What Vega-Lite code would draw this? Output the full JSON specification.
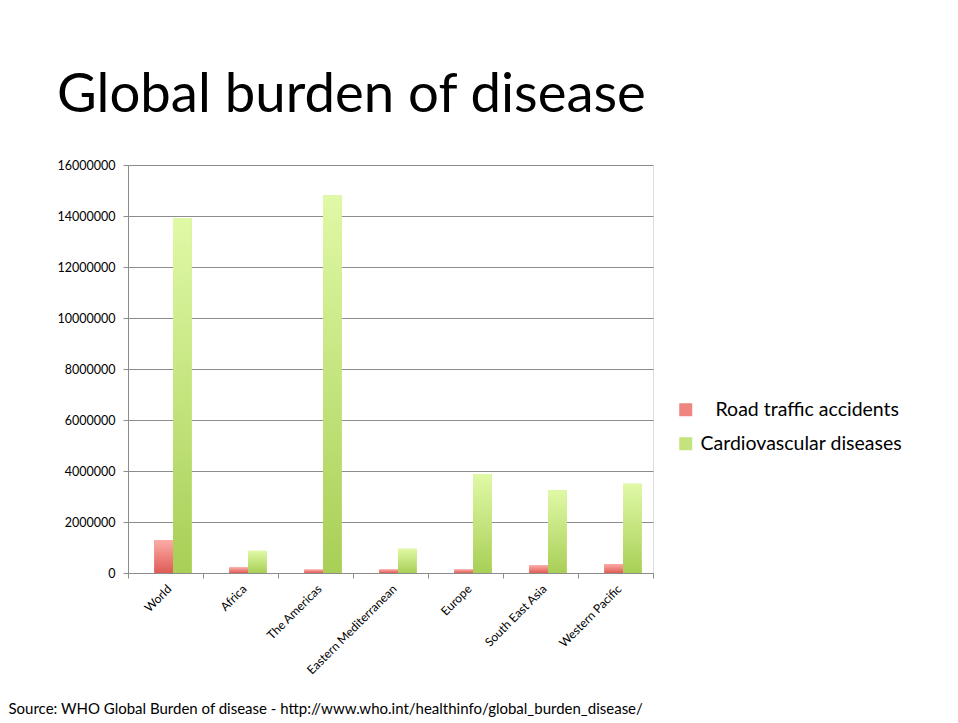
{
  "$schema": "https://vega.github.io/schema/vega-lite/v6.json",
  "width": 525,
  "height": 408,
  "autosize": {"type": "none"},
  "padding": {"left": 128, "top": 165, "right": 305, "bottom": 150},
  "background": "white",
  "title": {
    "text": "Global burden of disease",
    "anchor": "start",
    "frame": "group",
    "dx": -71,
    "offset": 36,
    "font": "Lato",
    "fontSize": 54.5,
    "fontWeight": "normal",
    "color": "black"
  },
  "data": {
    "values": [
      {"region": "World", "series": "Road traffic accidents", "deaths": 1290000},
      {"region": "World", "series": "Cardiovascular diseases", "deaths": 13920000},
      {"region": "Africa", "series": "Road traffic accidents", "deaths": 220000},
      {"region": "Africa", "series": "Cardiovascular diseases", "deaths": 870000},
      {"region": "The Americas", "series": "Road traffic accidents", "deaths": 135000},
      {"region": "The Americas", "series": "Cardiovascular diseases", "deaths": 14800000},
      {"region": "Eastern Mediterranean", "series": "Road traffic accidents", "deaths": 140000},
      {"region": "Eastern Mediterranean", "series": "Cardiovascular diseases", "deaths": 950000},
      {"region": "Europe", "series": "Road traffic accidents", "deaths": 140000},
      {"region": "Europe", "series": "Cardiovascular diseases", "deaths": 3880000},
      {"region": "South East Asia", "series": "Road traffic accidents", "deaths": 300000},
      {"region": "South East Asia", "series": "Cardiovascular diseases", "deaths": 3250000},
      {"region": "Western Pacific", "series": "Road traffic accidents", "deaths": 350000},
      {"region": "Western Pacific", "series": "Cardiovascular diseases", "deaths": 3500000}
    ]
  },
  "encoding": {
    "x": {
      "field": "region",
      "type": "nominal",
      "sort": null,
      "scale": {"paddingInner": 0, "paddingOuter": 0},
      "axis": {
        "labelAngle": -45,
        "labelFont": "Lato",
        "labelFontSize": 12,
        "labelColor": "black",
        "labelPadding": 5,
        "labelLimit": 0,
        "domainColor": "#8c8c8c",
        "tickColor": "#8c8c8c",
        "tickSize": 5,
        "tickBand": "extent",
        "grid": false,
        "title": "Source: WHO Global Burden of disease - http://www.who.int/healthinfo/global_burden_disease/",
        "titleFont": "Lato",
        "titleFontSize": 15,
        "titleFontWeight": "normal",
        "titleColor": "black",
        "titleAnchor": "start",
        "titleAlign": "left",
        "titleBaseline": "alphabetic",
        "titleX": -120,
        "titleY": 140
      }
    },
    "xOffset": {
      "field": "series",
      "type": "nominal",
      "scale": {
        "domain": ["Road traffic accidents", "Cardiovascular diseases"],
        "paddingInner": 0,
        "paddingOuter": 1.2,
        "align": 0.7
      }
    },
    "y": {
      "field": "deaths",
      "type": "quantitative",
      "scale": {"domain": [0, 16000000], "nice": false},
      "axis": {
        "values": [0, 2000000, 4000000, 6000000, 8000000, 10000000, 12000000, 14000000, 16000000],
        "format": "d",
        "title": null,
        "labelFont": "Lato",
        "labelFontSize": 12.5,
        "labelColor": "black",
        "labelPadding": 8,
        "domainColor": "#8c8c8c",
        "tickColor": "#8c8c8c",
        "tickSize": 5,
        "gridColor": "#8c8c8c",
        "gridOpacity": 1
      }
    }
  },
  "layer": [
    {
      "mark": {"type": "bar"},
      "encoding": {
        "color": {
          "field": "series",
          "type": "nominal",
          "scale": {
            "domain": ["Road traffic accidents", "Cardiovascular diseases"],
            "range": ["#ee8580", "#c4e37e"]
          },
          "legend": {
            "orient": "none",
            "legendX": 548,
            "legendY": 235,
            "title": null,
            "symbolType": "square",
            "symbolSize": 169,
            "symbolStrokeWidth": 0,
            "labelFont": "Lato",
            "labelFontSize": 19.5,
            "labelColor": "black",
            "labelLimit": 0,
            "labelOffset": 5,
            "rowPadding": 13,
            "encode": {
              "labels": {
                "update": {
                  "dx": [
                    {"test": "datum.value === 'Road traffic accidents'", "value": 15},
                    {"value": 0}
                  ]
                }
              },
              "symbols": {
                "update": {
                  "fill": [
                    {
                      "test": "datum.value === 'Road traffic accidents'",
                      "value": {
                        "gradient": "linear",
                        "x1": 0, "y1": 0, "x2": 0, "y2": 1,
                        "stops": [
                          {"offset": 0, "color": "#fcaca7"},
                          {"offset": 1, "color": "#df5b55"}
                        ]
                      }
                    },
                    {
                      "value": {
                        "gradient": "linear",
                        "x1": 0, "y1": 0, "x2": 0, "y2": 1,
                        "stops": [
                          {"offset": 0, "color": "#e0f9a6"},
                          {"offset": 1, "color": "#a8cf56"}
                        ]
                      }
                    }
                  ]
                }
              }
            }
          }
        }
      }
    },
    {
      "transform": [{"filter": "datum.series === 'Road traffic accidents'"}],
      "mark": {
        "type": "bar",
        "fill": {
          "gradient": "linear",
          "x1": 0, "y1": 0, "x2": 0, "y2": 1,
          "stops": [
            {"offset": 0, "color": "#fcaca7"},
            {"offset": 1, "color": "#df5b55"}
          ]
        }
      }
    },
    {
      "transform": [{"filter": "datum.series === 'Cardiovascular diseases'"}],
      "mark": {
        "type": "bar",
        "fill": {
          "gradient": "linear",
          "x1": 0, "y1": 0, "x2": 0, "y2": 1,
          "stops": [
            {"offset": 0, "color": "#e0f9a6"},
            {"offset": 1, "color": "#a8cf56"}
          ]
        }
      }
    }
  ]
}
